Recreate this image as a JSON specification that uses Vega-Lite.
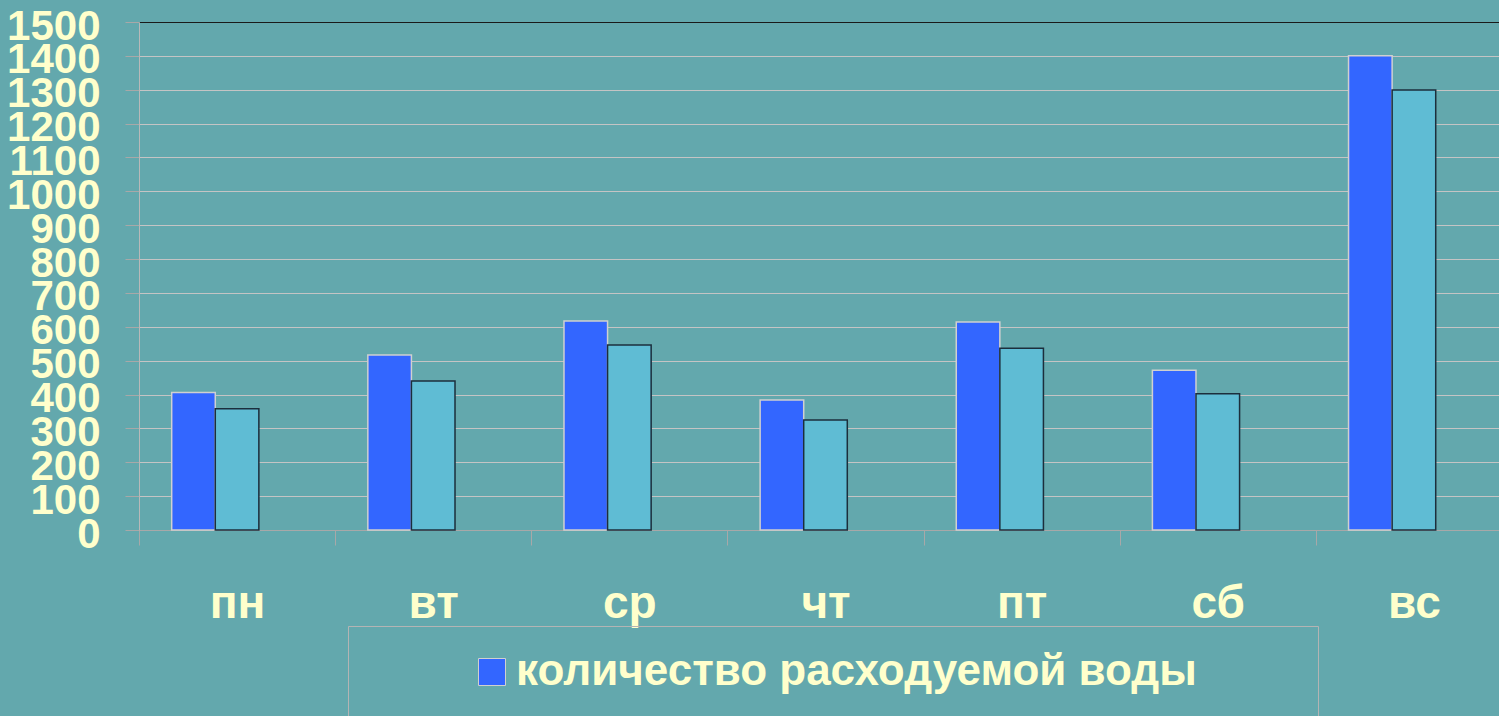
{
  "$schema": "https://vega.github.io/schema/vega-lite/v6.json",
  "width": 1360,
  "height": 508,
  "autosize": {"type": "none"},
  "padding": {"left": 139, "top": 22, "right": 0, "bottom": 186},
  "background": "#63A8AD",
  "config": {
    "view": {"stroke": null},
    "font": "Liberation Sans"
  },
  "data": {
    "values": [
      {"day": "пн", "series": "количество расходуемой воды", "value": 406},
      {"day": "пн", "series": "ряд 2", "value": 358},
      {"day": "вт", "series": "количество расходуемой воды", "value": 517},
      {"day": "вт", "series": "ряд 2", "value": 440},
      {"day": "ср", "series": "количество расходуемой воды", "value": 617},
      {"day": "ср", "series": "ряд 2", "value": 546},
      {"day": "чт", "series": "количество расходуемой воды", "value": 384},
      {"day": "чт", "series": "ряд 2", "value": 325},
      {"day": "пт", "series": "количество расходуемой воды", "value": 614},
      {"day": "пт", "series": "ряд 2", "value": 537},
      {"day": "сб", "series": "количество расходуемой воды", "value": 472},
      {"day": "сб", "series": "ряд 2", "value": 402},
      {"day": "вс", "series": "количество расходуемой воды", "value": 1400},
      {"day": "вс", "series": "ряд 2", "value": 1299}
    ]
  },
  "mark": {"type": "bar", "strokeWidth": 1.5},
  "encoding": {
    "x": {
      "field": "day",
      "type": "nominal",
      "sort": ["пн", "вт", "ср", "чт", "пт", "сб", "вс"],
      "scale": {"range": [0, 1373], "paddingInner": 0, "paddingOuter": 0},
      "axis": {
        "title": null,
        "labelAngle": 0,
        "bandPosition": 0,
        "ticks": true,
        "tickBand": "extent",
        "tickSize": 15,
        "tickColor": "#A8A8A8",
        "domainColor": "#A8A8A8",
        "labelPadding": 36,
        "labelBaseline": "top",
        "labelFont": "Liberation Sans",
        "labelFontWeight": "bold",
        "labelFontSize": 46,
        "labelColor": "#FFFFCC",
        "grid": false
      }
    },
    "xOffset": {
      "field": "series",
      "type": "nominal",
      "scale": {"domain": ["количество расходуемой воды", "ряд 2", "ряд 3"], "paddingInner": 0, "paddingOuter": 0.75}
    },
    "y": {
      "field": "value",
      "type": "quantitative",
      "scale": {"domain": [0, 1500], "nice": false},
      "axis": {
        "title": null,
        "format": "d",
        "values": [0, 100, 200, 300, 400, 500, 600, 700, 800, 900, 1000, 1100, 1200, 1300, 1400, 1500],
        "tickSize": 14,
        "tickColor": "#A8A8A8",
        "domainColor": "#B8B8B8",
        "gridColor": {"condition": {"test": "datum.value == 1500", "value": "#1A1A1A"}, "value": "#C4C4C4"},
        "gridWidth": 1,
        "labelPadding": 25,
        "labelOffset": 4,
        "labelFont": "Liberation Sans",
        "labelFontWeight": "bold",
        "labelFontSize": 42,
        "labelColor": "#FFFFCC",
        "labelOverlap": false
      }
    },
    "color": {
      "field": "series",
      "type": "nominal",
      "scale": {"domain": ["количество расходуемой воды", "ряд 2"], "range": ["#3366FF", "#5FBCD4"]},
      "legend": {
        "values": ["количество расходуемой воды"],
        "title": ".",
        "titleOrient": "right",
        "titleOpacity": 0,
        "titlePadding": 94,
        "titleFontSize": 10,
        "orient": "none",
        "legendX": 209,
        "legendY": 604,
        "padding": 24,
        "strokeColor": "#B4B4B4",
        "symbolType": "square",
        "symbolSize": 729,
        "symbolOffset": 98,
        "symbolStrokeColor": "#C8C8C8",
        "symbolStrokeWidth": 1,
        "labelOffset": 2,
        "labelFont": "Liberation Sans",
        "labelFontWeight": "bold",
        "labelFontSize": 44,
        "labelColor": "#FFFFCC",
        "labelLimit": 2000
      }
    },
    "stroke": {
      "field": "series",
      "type": "nominal",
      "scale": {"domain": ["количество расходуемой воды", "ряд 2"], "range": ["#D0D0D0", "#1C2E3C"]},
      "legend": null
    }
  }
}
